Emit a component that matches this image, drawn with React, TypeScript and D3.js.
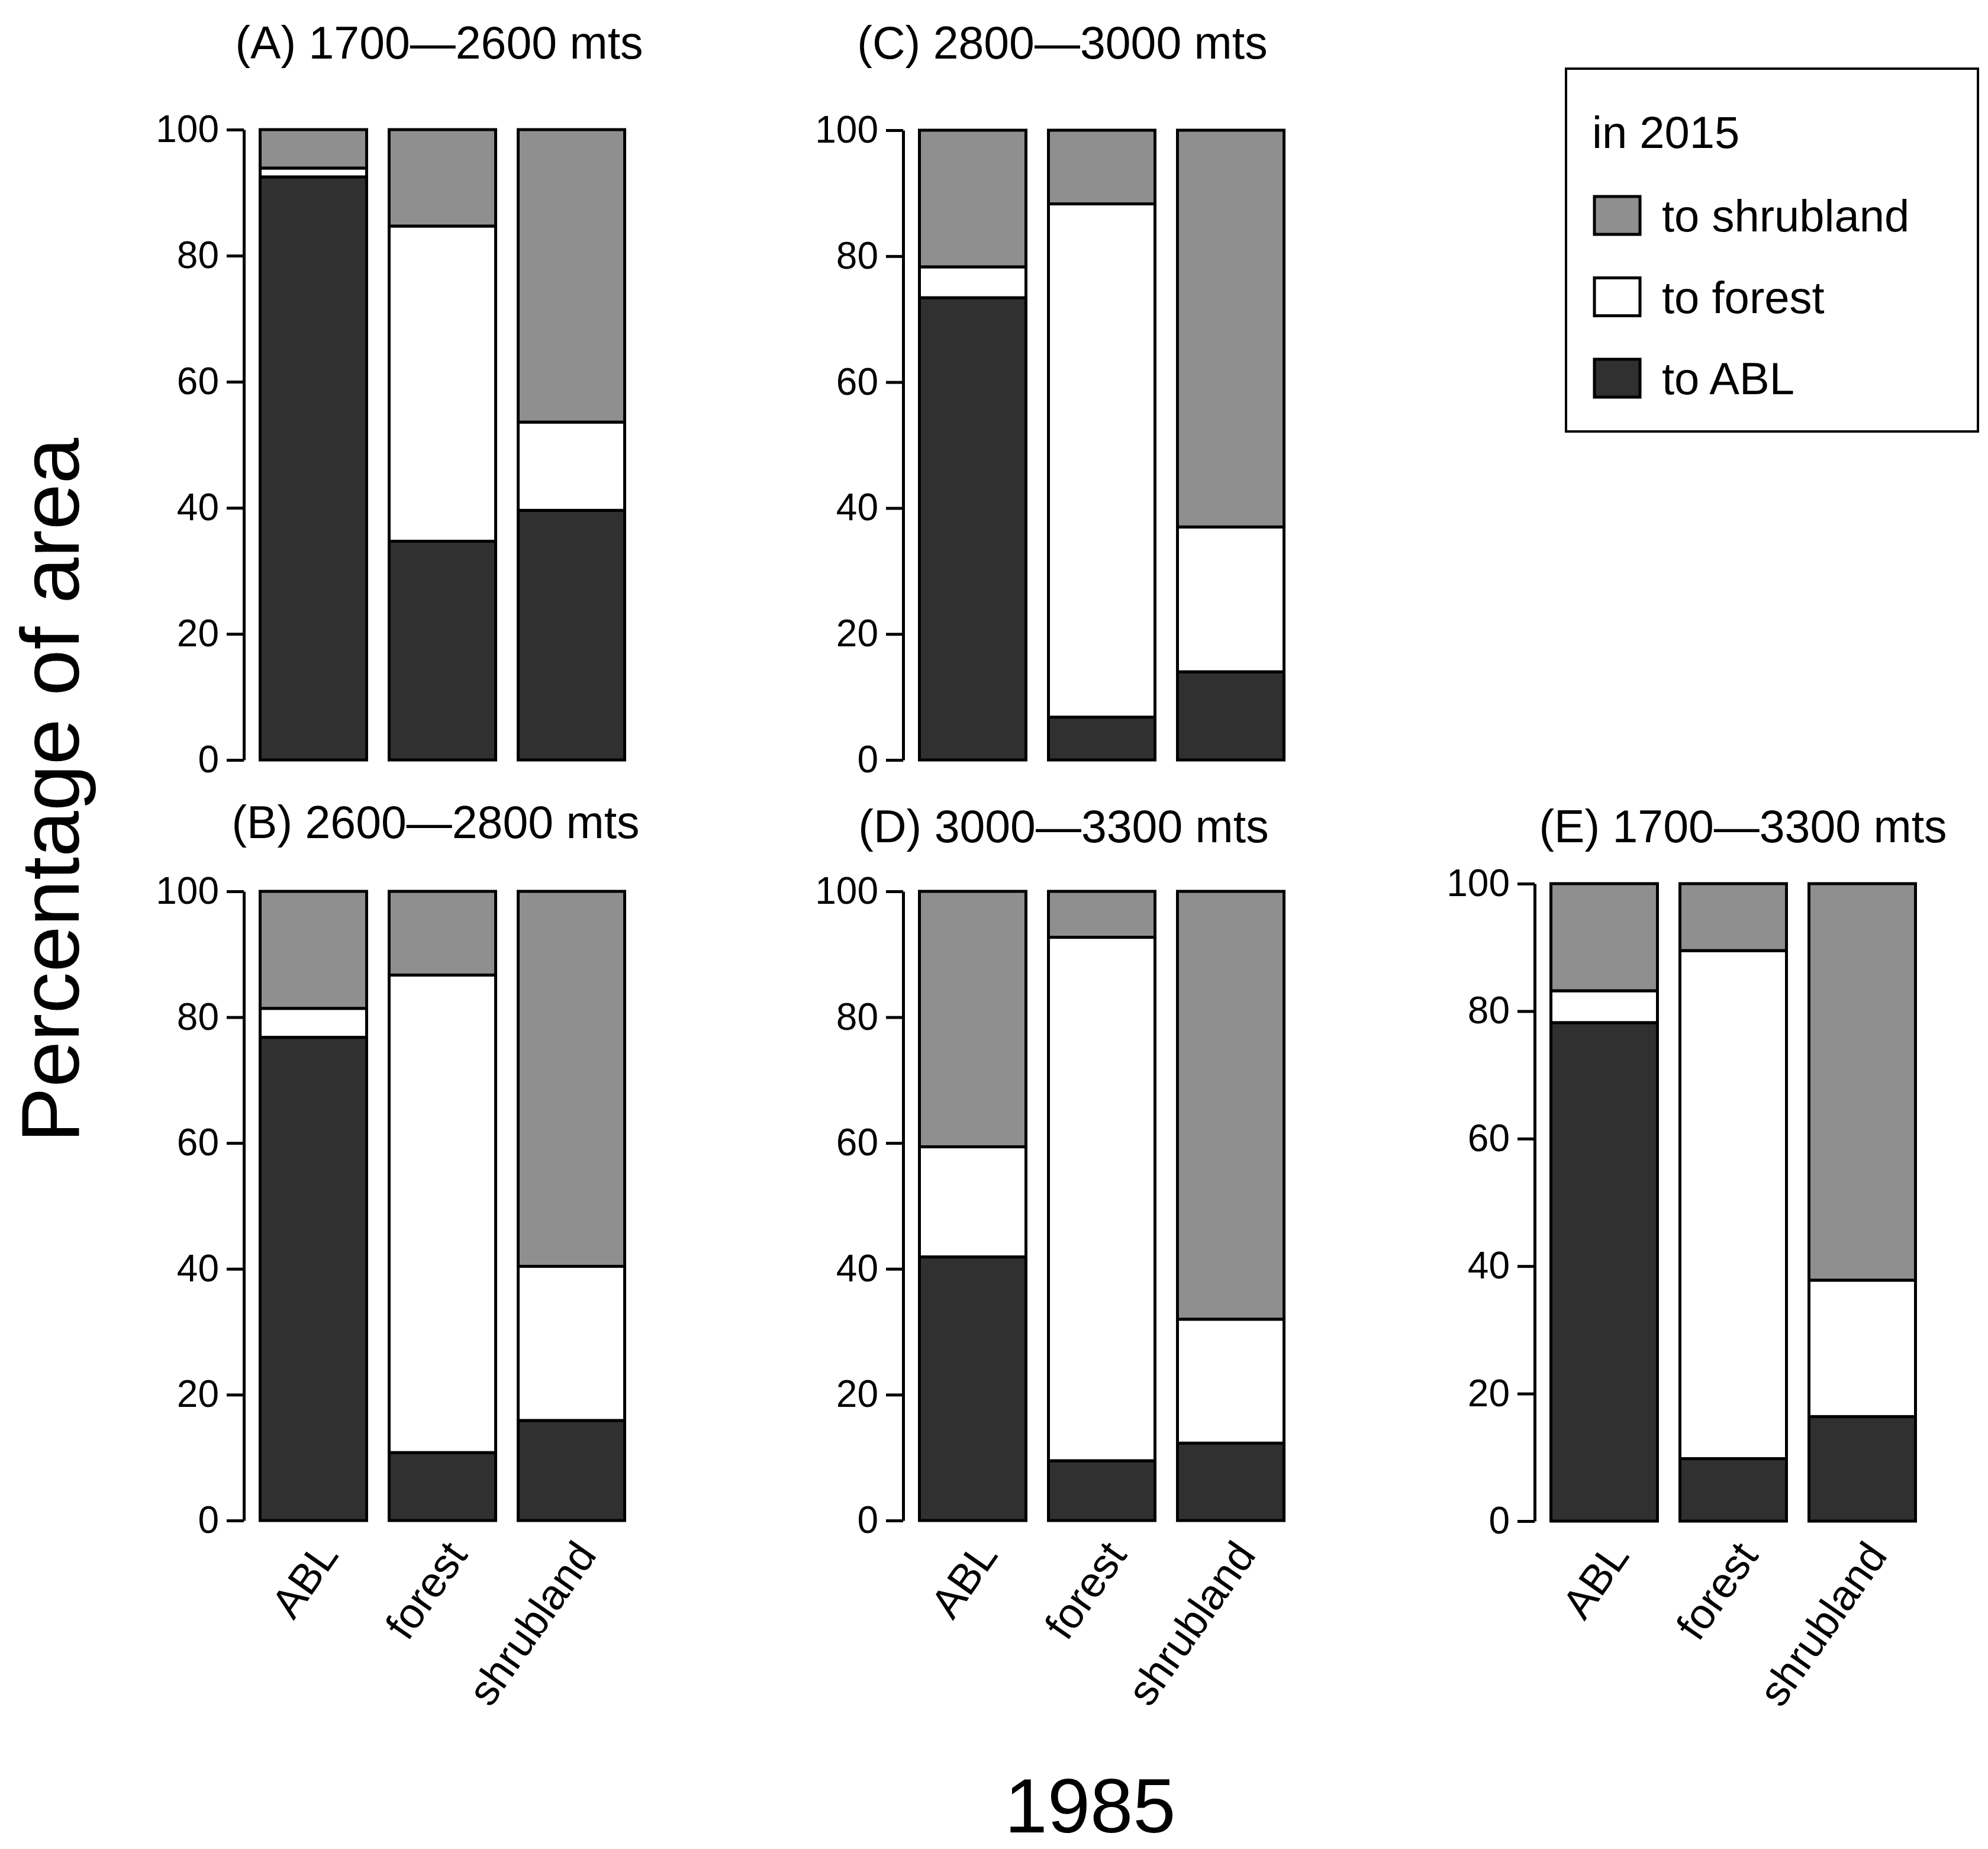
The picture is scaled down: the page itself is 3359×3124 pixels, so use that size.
import React, { useEffect, useRef } from "react";
import * as d3 from "d3";

// 1985 land cover classes (x axis of every panel)
const categories = ["ABL", "forest", "shrubland"];
const yTicks = [0, 20, 40, 60, 80, 100];

// share of each 1985 class that went to ... in 2015 (percent)
const toABL_A = [92.5, 34.7, 39.6];
const toForest_A = [1.4, 50.0, 14.0];
const toShrubland_A = [6.1, 15.3, 46.4];

const toABL_B = [76.8, 10.8, 15.9];
const toForest_B = [4.6, 75.9, 24.5];
const toShrubland_B = [18.6, 13.3, 59.6];

const toABL_C = [73.4, 6.8, 14.0];
const toForest_C = [4.9, 81.5, 23.0];
const toShrubland_C = [21.7, 11.7, 63.0];

const toABL_D = [41.9, 9.5, 12.3];
const toForest_D = [17.5, 83.2, 19.7];
const toShrubland_D = [40.6, 7.3, 68.0];

const toABL_E = [78.2, 9.8, 16.4];
const toForest_E = [5.0, 79.7, 21.4];
const toShrubland_E = [16.8, 10.5, 62.2];

const panelTitles = [
  "(A) 1700\u20142600 mts",
  "(B) 2600\u20142800 mts",
  "(C) 2800\u20143000 mts",
  "(D) 3000\u20143300 mts",
  "(E) 1700\u20143300 mts",
];

const legendTitle = "in 2015";
const legendLabels = ["to shrubland", "to forest", "to ABL"];

const KEYS = ["toABL", "toForest", "toShrubland"] as const;
const FILLS: Record<string, string> = {
  toABL: "#303030",
  toForest: "#ffffff",
  toShrubland: "#8f8f8f",
};

const W = 3359;
const H = 3124;
const FONT = "'Liberation Sans', Arial, Helvetica, sans-serif";
const LW = 5;

// panel frames (axis x, y of 100, y of 0, title anchor)
const layout = [
  { ax: 412, top: 219, bot: 1284, tx: 742, ty: 99 },
  { ax: 412, top: 1506, bot: 2569, tx: 736, ty: 1416 },
  { ax: 1526, top: 220, bot: 1284, tx: 1795, ty: 99 },
  { ax: 1526, top: 1506, bot: 2569, tx: 1797, ty: 1423 },
  { ax: 2593, top: 1493, bot: 2570, tx: 2945, ty: 1423 },
];

const panelSeries = [
  [toABL_A, toForest_A, toShrubland_A],
  [toABL_B, toForest_B, toShrubland_B],
  [toABL_C, toForest_C, toShrubland_C],
  [toABL_D, toForest_D, toShrubland_D],
  [toABL_E, toForest_E, toShrubland_E],
];

export default function App() {
  const gPanels = useRef<SVGGElement>(null);
  const gLegend = useRef<SVGGElement>(null);

  useEffect(() => {
    const root = d3.select(gPanels.current);
    root.selectAll("*").remove();

    panelSeries.forEach((series, i) => {
      const L = layout[i];
      const rows = categories.map((c, j) => ({
        cat: c,
        toABL: series[0][j],
        toForest: series[1][j],
        toShrubland: series[2][j],
      }));
      const stacked = d3.stack<any>().keys(KEYS as unknown as string[])(rows);

      const x = d3
        .scaleBand()
        .domain(categories)
        .range([L.ax + 27.5, L.ax + 27.5 + 616])
        .paddingInner(38 / 218)
        .paddingOuter(0);
      const y = d3.scaleLinear().domain([0, 100]).range([L.bot, L.top]);

      const g = root.append("g");

      // bars
      g.selectAll("g.layer")
        .data(stacked)
        .join("g")
        .attr("class", "layer")
        .attr("fill", (d) => FILLS[d.key])
        .selectAll("rect")
        .data((d) => d)
        .join("rect")
        .attr("x", (d) => x(d.data.cat)!)
        .attr("width", x.bandwidth())
        .attr("y", (d) => y(d[1]))
        .attr("height", (d) => y(d[0]) - y(d[1]))
        .attr("stroke", "#000")
        .attr("stroke-width", LW);

      // y axis
      const axis = d3
        .axisLeft(y)
        .tickValues(yTicks)
        .tickSize(29)
        .tickSizeOuter(0)
        .tickPadding(13);
      g.append("g")
        .attr("transform", `translate(${L.ax},0)`)
        .call(axis as any)
        .call((a) => a.select(".domain").attr("stroke", "#000").attr("stroke-width", LW))
        .call((a) => a.selectAll(".tick line").attr("stroke", "#000").attr("stroke-width", LW))
        .call((a) =>
          a
            .selectAll(".tick text")
            .attr("fill", "#000")
            .attr("font-size", 64)
            .attr("font-family", FONT)
        );

      // rotated category labels (only on the bottom row)
      if (i === 1 || i === 3 || i === 4) {
        g.selectAll("text.cat")
          .data(categories)
          .join("text")
          .attr("class", "cat")
          .attr("text-anchor", "end")
          .attr("dominant-baseline", "central")
          .attr("font-size", 72)
          .attr("font-family", FONT)
          .attr(
            "transform",
            (d) => `translate(${x(d)! + x.bandwidth() / 2 + 24},${L.bot + 44}) rotate(-55)`
          )
          .text((d) => d);
      }

      // panel title
      g.append("text")
        .attr("x", L.tx)
        .attr("y", L.ty)
        .attr("text-anchor", "middle")
        .attr("font-size", 77)
        .attr("font-family", FONT)
        .text(panelTitles[i]);
    });

    // legend
    const lg = d3.select(gLegend.current);
    lg.selectAll("*").remove();
    lg.append("rect")
      .attr("x", 2646)
      .attr("y", 116)
      .attr("width", 696)
      .attr("height", 613)
      .attr("fill", "none")
      .attr("stroke", "#000")
      .attr("stroke-width", 4);
    lg.append("text")
      .attr("x", 2690)
      .attr("y", 250)
      .attr("font-size", 76)
      .attr("font-family", FONT)
      .text(legendTitle);
    const legendKeys = ["toShrubland", "toForest", "toABL"];
    const ly = d3.scalePoint().domain(legendKeys).range([364, 639]);
    const items = lg
      .selectAll("g.item")
      .data(legendKeys)
      .join("g")
      .attr("class", "item")
      .attr("transform", (d) => `translate(0,${ly(d)})`);
    items
      .append("rect")
      .attr("x", 2694)
      .attr("y", -32)
      .attr("width", 77)
      .attr("height", 64)
      .attr("fill", (d) => FILLS[d])
      .attr("stroke", "#000")
      .attr("stroke-width", LW);
    items
      .append("text")
      .attr("x", 2808)
      .attr("y", 27)
      .attr("font-size", 76)
      .attr("font-family", FONT)
      .text((d, k) => legendLabels[k]);
  }, []);

  return (
    <div style={{ position: "absolute", left: 0, top: 0 }}>
      <svg width={W} height={H} style={{ display: "block", background: "#fff" }}>
        <g ref={gPanels}></g>
        <g ref={gLegend}></g>
        <text
          transform="translate(133,1335) rotate(-90)"
          textAnchor="middle"
          fontSize={140}
          fontFamily={FONT}
        >
          Percentage of area
        </text>
        <text x={1842} y={3096} textAnchor="middle" fontSize={130} fontFamily={FONT}>
          1985
        </text>
      </svg>
    </div>
  );
}
